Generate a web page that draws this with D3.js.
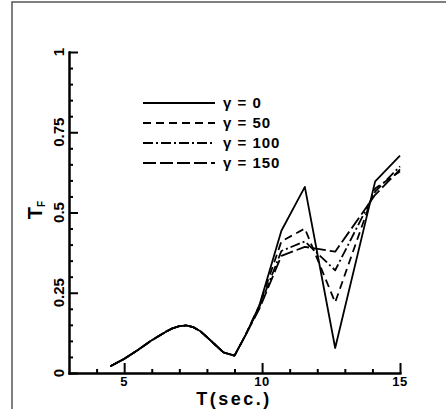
<!DOCTYPE html>
<html>
<head>
	<title>TF vs T</title>
	<meta charset="utf-8"/>
	<script type="text/javascript" src="https://cdn.jsdelivr.net/npm/d3@7"></script>
	<style>
		body { margin: 0; background: #fff; }
		text { font-family: "Liberation Sans", Arial, sans-serif; font-weight: bold; }
	</style>
</head>
<body>
	<div id="chart"></div>

	<script>
		// periods (sec.)
		var times = [4.5, 5, 5.5, 6, 6.5, 6.75, 7, 7.25, 7.5, 7.75, 8, 8.3, 8.6, 9, 9.4, 9.9, 10.7, 11.55, 12.65, 14.1, 15];

		// values, the curves only split after T = 9.4
		var tf_g0   = [0.021, 0.044, 0.072, 0.102, 0.128, 0.139, 0.146, 0.148, 0.143, 0.131, 0.112, 0.088, 0.064, 0.054, 0.118, 0.21, 0.443, 0.58, 0.078, 0.597, 0.677];
		var tf_g50  = [0.021, 0.044, 0.072, 0.102, 0.128, 0.139, 0.146, 0.148, 0.143, 0.131, 0.112, 0.088, 0.064, 0.054, 0.118, 0.21, 0.41, 0.45, 0.22, 0.575, 0.628];
		var tf_g100 = [0.021, 0.044, 0.072, 0.102, 0.128, 0.139, 0.146, 0.148, 0.143, 0.131, 0.112, 0.088, 0.064, 0.054, 0.118, 0.205, 0.38, 0.41, 0.32, 0.565, 0.644];
		var tf_g150 = [0.021, 0.044, 0.072, 0.102, 0.128, 0.139, 0.146, 0.148, 0.143, 0.131, 0.112, 0.088, 0.064, 0.054, 0.118, 0.2, 0.365, 0.393, 0.378, 0.555, 0.634];

		var gammas = ["0", "50", "100", "150"];
		var xTicks = [5, 10, 15];
		var yTicks = [0, 0.25, 0.5, 0.75, 1];
		var yTickLabels = ["0", "0.25", "0.5", "0.75", "1"];

		var series = [tf_g0, tf_g50, tf_g100, tf_g150];
		var dashes = [null, "8,5", "10,3,2,3", "13,4"];

		var svg = d3.select("#chart").append("svg")
			.attr("width", 446)
			.attr("height", 410);

		// frame (only top + left survive in the scan)
		svg.append("path")
			.attr("d", "M12,409 L12,2 L446,2")
			.attr("fill", "none")
			.attr("stroke", "#555")
			.attr("stroke-width", 1.5);

		var x = d3.scaleLinear().domain([3, 15]).range([69, 400]);
		var y = d3.scaleLinear().domain([0, 1]).range([373, 52]);

		// axes, ticks point inward
		var xAxis = d3.axisTop(x).tickValues(xTicks).tickSize(10).tickFormat("").tickSizeOuter(0);
		var xMinor = d3.axisTop(x).tickValues(d3.range(4, 15, 1).filter(function(d) { return d % 5 != 0; })).tickSize(4).tickFormat("").tickSizeOuter(0);
		var yAxis = d3.axisRight(y).tickValues(yTicks).tickSize(9).tickFormat("").tickSizeOuter(0);
		var yMinor = d3.axisRight(y).tickValues(d3.range(0.05, 1, 0.05).filter(function(d) { return Math.abs(d * 4 - Math.round(d * 4)) > 1e-6; })).tickSize(4).tickFormat("").tickSizeOuter(0);

		var gx = svg.append("g").attr("transform", "translate(0," + y(0) + ")");
		gx.call(xAxis);
		gx.append("g").call(xMinor);
		var gy = svg.append("g").attr("transform", "translate(" + x(3) + ",0)");
		gy.call(yAxis);
		gy.append("g").call(yMinor);
		svg.selectAll(".domain, .tick line").attr("stroke", "#000").attr("stroke-width", 2);
		svg.selectAll(".domain").attr("stroke-linecap", "square");

		// tick labels
		svg.selectAll(".xlab").data(xTicks).enter().append("text")
			.attr("x", function(d) { return x(d); })
			.attr("y", 386)
			.attr("text-anchor", "middle")
			.attr("font-size", 13)
			.attr("letter-spacing", 0.5)
			.text(function(d) { return d; });

		svg.selectAll(".ylab").data(yTicks).enter().append("text")
			.attr("transform", function(d) { return "translate(64," + y(d) + ") rotate(-90)"; })
			.attr("text-anchor", "middle")
			.attr("font-size", 15)
			.text(function(d, i) { return yTickLabels[i]; });

		// axis titles
		svg.append("text")
			.attr("x", 234)
			.attr("y", 405)
			.attr("text-anchor", "middle")
			.attr("font-size", 18)
			.attr("letter-spacing", 2.5)
			.text("T(sec.)");

		var yt = svg.append("text")
			.attr("transform", "translate(42,210) rotate(-90)")
			.attr("text-anchor", "middle")
			.attr("font-size", 20);
		yt.append("tspan").text("T");
		yt.append("tspan").attr("font-size", 10).attr("dy", 3).text("F");

		// curves
		var line = d3.line()
			.x(function(d, i) { return x(times[i]); })
			.y(function(d) { return y(d); });

		svg.selectAll(".curve").data(series).enter().append("path")
			.attr("d", line)
			.attr("fill", "none")
			.attr("stroke", "#000")
			.attr("stroke-width", 1.8)
			.attr("stroke-linejoin", "round")
			.attr("stroke-dasharray", function(d, i) { return dashes[i]; });

		// legend
		var leg = svg.selectAll(".leg").data(gammas).enter().append("g")
			.attr("transform", function(d, i) { return "translate(143," + (103 + i * 20) + ")"; });
		leg.append("line")
			.attr("x1", 0).attr("x2", 72)
			.attr("stroke", "#000")
			.attr("stroke-width", 1.8)
			.attr("stroke-dasharray", function(d, i) { return dashes[i]; });
		leg.append("text")
			.attr("x", 80)
			.attr("y", 5)
			.attr("font-size", 15)
			.attr("letter-spacing", 1)
			.text(function(d) { return "\u03b3 = " + d; });
	</script>
</body>
</html>
